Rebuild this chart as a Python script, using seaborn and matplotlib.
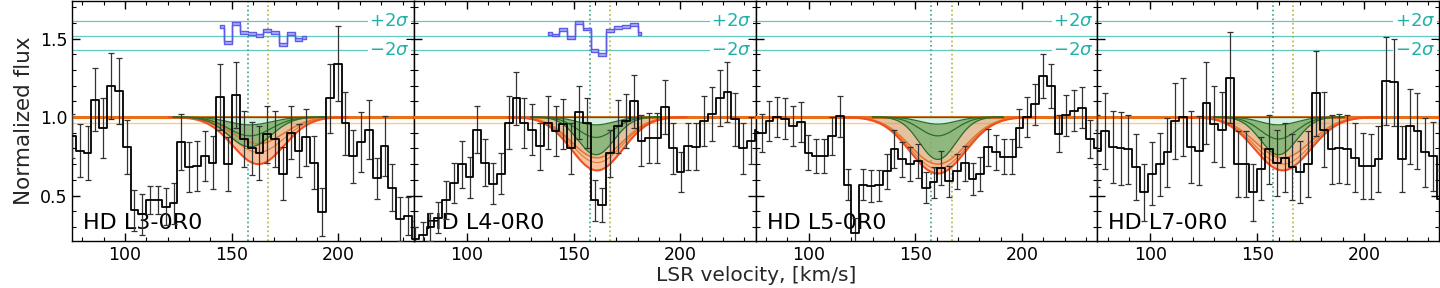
import numpy as np
import matplotlib
matplotlib.use("Agg")
import matplotlib.pyplot as plt
from matplotlib.ticker import MultipleLocator
import matplotlib.transforms as mtransforms
import seaborn as sns

# ---------------- data ----------------
panel_names = ["HD L3-0R0", "HD L4-0R0", "HD L5-0R0", "HD L7-0R0"]
bin_start = [73.34, 73.85, 72.5, 73.2]   # left edge of first velocity bin (km/s)
bin_width = 3.66

flux_L3 = [0.88, 0.785, 0.77, 1.11, 0.93, 1.20, 1.165, 0.81, 0.405, 0.38, 0.47, 0.47, 0.43, 0.45,
           0.84, 0.68, 0.69, 0.75, 0.71, 1.13, 0.70, 1.14, 0.86, 0.80, 0.77, 0.89, 0.86, 0.64,
           0.90, 0.785, 0.87, 0.71, 0.395, 1.12, 1.34, 0.96, 0.75, 0.84, 0.92, 0.61, 0.815, 0.55,
           0.35, 0.37, 0.22]
err_L3 = [0.14, 0.17, 0.17, 0.20, 0.19, 0.21, 0.21, 0.17, 0.13, 0.13, 0.09, 0.09, 0.12, 0.13,
          0.18, 0.16, 0.16, 0.16, 0.17, 0.21, 0.17, 0.21, 0.18, 0.17, 0.17, 0.18, 0.18, 0.17,
          0.17, 0.17, 0.18, 0.17, 0.15, 0.22, 0.24, 0.20, 0.17, 0.19, 0.19, 0.13, 0.19, 0.15,
          0.14, 0.12, 0.12]

flux_L4 = [0.22, 0.25, 0.30, 0.36, 0.47, 0.58, 0.70, 0.615, 0.92, 0.71, 0.575, 0.64, 0.965, 1.12,
           0.96, 0.92, 0.815, 0.965, 0.91, 0.955, 0.80, 1.03, 0.96, 0.47, 0.44, 0.77, 0.94, 0.975,
           1.10, 0.85, 0.865, 0.865, 1.065, 0.80, 0.65, 0.815, 0.81, 0.975, 1.02, 1.12, 1.16,
           0.985, 0.80, 0.85, 0.92]
err_L4 = [0.08, 0.08, 0.09, 0.10, 0.12, 0.13, 0.15, 0.13, 0.15, 0.15, 0.13, 0.13, 0.17, 0.17,
          0.16, 0.16, 0.15, 0.17, 0.16, 0.16, 0.16, 0.17, 0.16, 0.13, 0.11, 0.15, 0.17, 0.17,
          0.17, 0.16, 0.16, 0.16, 0.17, 0.16, 0.13, 0.15, 0.15, 0.16, 0.17, 0.18, 0.19,
          0.17, 0.16, 0.15, 0.16]

flux_L5 = [0.907, 0.90, 0.975, 1.0, 0.99, 0.943, 0.968, 0.774, 0.753, 0.753, 0.88, 1.006, 0.57,
           0.26, 0.57, 0.56, 0.565, 0.654, 0.795, 0.73, 0.70, 0.72, 0.55, 0.584, 0.675, 0.59,
           0.654, 0.705, 0.605, 0.637, 0.806, 0.775, 0.747, 0.747, 0.928, 1.0, 1.08, 1.26, 1.196,
           0.895, 1.01, 1.04, 1.06, 0.86, 0.80]
err_L5 = [0.12, 0.12, 0.13, 0.13, 0.13, 0.13, 0.13, 0.11, 0.11, 0.11, 0.12, 0.13, 0.10,
          0.10, 0.10, 0.10, 0.10, 0.11, 0.12, 0.11, 0.11, 0.11, 0.10, 0.10, 0.11, 0.10,
          0.11, 0.11, 0.10, 0.11, 0.12, 0.11, 0.11, 0.11, 0.12, 0.13, 0.13, 0.14, 0.14,
          0.12, 0.13, 0.13, 0.13, 0.12, 0.12]

flux_L7 = [0.785, 0.91, 0.81, 0.80, 0.795, 0.68, 0.52, 0.64, 0.70, 0.775, 0.975, 1.0, 0.81, 0.785,
           1.09, 0.955, 0.92, 1.25, 0.70, 0.70, 0.52, 0.67, 0.795, 0.71, 0.74, 0.68, 0.65, 0.70,
           1.15, 0.92, 0.795, 0.80, 0.795, 0.74, 0.69, 0.685, 0.73, 1.23, 1.22, 0.73, 0.94, 0.91,
           0.775, 0.75, 0.48]
err_L7 = [0.23, 0.24, 0.23, 0.23, 0.22, 0.21, 0.18, 0.20, 0.20, 0.22, 0.24, 0.25, 0.23, 0.22,
          0.26, 0.24, 0.24, 0.29, 0.21, 0.21, 0.18, 0.20, 0.22, 0.21, 0.22, 0.21, 0.20, 0.21,
          0.27, 0.24, 0.22, 0.22, 0.22, 0.22, 0.21, 0.21, 0.21, 0.28, 0.28, 0.21, 0.24, 0.24,
          0.22, 0.22, 0.18]

fluxes = [flux_L3, flux_L4, flux_L5, flux_L7]
errors = [err_L3, err_L4, err_L5, err_L7]

# model profiles: centre (km/s), width (km/s) and depths of the band curves
green_center = [158.5, 160.5, 160.5, 160.0]
green_sigma = [10.0, 8.5, 8.5, 8.5]
green_depths = [[0.05, 0.12, 0.19], [0.05, 0.13, 0.24], [0.045, 0.12, 0.27], [0.05, 0.14, 0.24]]
orange_center = [162.5, 161.0, 160.5, 162.0]
orange_sigma = [12.0, 12.0, 13.0, 13.0]
orange_depths = [[0.17, 0.225, 0.30], [0.26, 0.29, 0.34], [0.30, 0.33, 0.36], [0.26, 0.30, 0.34]]

comp_velocities = [157.5, 167.0]

# residuals (in sigma units) shown above the spectra
res_first_bin = {0: 19, 1: 17}
res_values = {0: [1.2, -0.88, 1.64, 0.40, 0.23, 0.0, 0.63, 0.44, -1.16, 0.32, -0.57, -0.27],
              1: [0.32, 0.08, 0.76, -0.27, 1.77, 0.88, -2.04, -2.57, 0.63, 1.07, 1.20, 1.52, 0.32]}
res_level = 1.519
res_sigma = 0.0475

# ---------------- style ----------------
sns.set_theme(style="ticks")
plt.rcParams.update({
    "font.family": ["DejaVu Sans"],
    "axes.edgecolor": "black",
    "axes.linewidth": 1.0,
    "xtick.color": "black",
    "ytick.color": "black",
    "xtick.major.size": 6, "ytick.major.size": 6,
    "xtick.minor.size": 3, "ytick.minor.size": 3,
    "xtick.major.width": 1.0, "ytick.major.width": 1.0,
    "xtick.minor.width": 0.8, "ytick.minor.width": 0.8,
})

fig, axes = plt.subplots(1, 4, figsize=(14.4, 2.88), dpi=100, sharey=True)
fig.subplots_adjust(left=0.05, right=0.9995, bottom=0.163, top=0.997, wspace=0)

vgrid = np.linspace(60, 250, 800)
teal = "#20b2aa"

for i, ax in enumerate(axes):
    flux = np.array(fluxes[i])
    err = np.array(errors[i])
    vc = bin_start[i] + bin_width * (np.arange(len(flux)) + 0.5)

    # sigma reference lines
    for lvl in (res_level - 2 * res_sigma, res_level, res_level + 2 * res_sigma):
        ax.axhline(lvl, color=teal, lw=0.9, alpha=0.7, zorder=1)
    trans = mtransforms.blended_transform_factory(ax.transAxes, ax.transData)
    for lvl, lab in ((res_level + 2 * res_sigma, r"$+2\sigma$"), (res_level - 2 * res_sigma, r"$-2\sigma$")):
        ax.text(0.988, lvl, lab, transform=trans, ha="right", va="center", fontsize=13,
                color=teal, zorder=2,
                bbox=dict(facecolor="white", edgecolor="none", pad=1.0))

    # component velocities
    ax.axvline(comp_velocities[0], color="#3a9f8f", ls=":", lw=1.2, zorder=1)
    ax.axvline(comp_velocities[1], color="#b5b040", ls=":", lw=1.2, zorder=1)

    # model bands
    og = [1 - d * np.exp(-0.5 * ((vgrid - orange_center[i]) / orange_sigma[i]) ** 2)
          for d in orange_depths[i]]
    gg = [1 - d * np.exp(-0.5 * ((vgrid - green_center[i]) / green_sigma[i]) ** 2)
          for d in green_depths[i]]
    ax.axhline(0.965, color="#ffc98a", lw=1.0, zorder=1)
    ax.fill_between(vgrid, og[0], 1.0, color="#d49a5c", alpha=0.6, lw=0, zorder=2)
    ax.fill_between(vgrid, og[2], og[0], color="#f8bf9c", alpha=0.95, lw=0, zorder=2)
    ax.axhline(1.0, color="#e8701a", lw=2.2, zorder=3)
    gmask = np.abs(vgrid - green_center[i]) < 3.6 * green_sigma[i]
    ax.fill_between(vgrid[gmask], gg[0][gmask], 1.0, color="#d6f0e4", lw=0, zorder=3)
    ax.fill_between(vgrid[gmask], gg[2][gmask], gg[0][gmask], color="#74b574", alpha=0.75,
                    lw=0, zorder=3)
    omask = np.abs(vgrid - orange_center[i]) < 3.5 * orange_sigma[i]
    for k, c in enumerate(["#e07a30", "#e0783a", "#f24e1e"]):
        sns.lineplot(x=vgrid[omask], y=og[k][omask], ax=ax, color=c, lw=[1.2, 0.8, 1.5][k],
                     zorder=4, estimator=None, sort=False)
    for k in range(3):
        sns.lineplot(x=vgrid[gmask], y=gg[k][gmask], ax=ax, color="#2a6e2a", lw=0.9,
                     zorder=4, estimator=None, sort=False)
    sns.lineplot(x=vgrid[gmask], y=np.ones(gmask.sum()), ax=ax, color="#2a6e2a", lw=0.9,
                 zorder=4, estimator=None, sort=False)

    # data
    ax.errorbar(vc, flux, yerr=err, fmt="none", ecolor="#333333", elinewidth=0.9,
                capsize=2.5, capthick=0.9, zorder=5)
    sns.lineplot(x=vc, y=flux, ax=ax, color="black", lw=1.3, drawstyle="steps-mid",
                 zorder=6, estimator=None, sort=False)

    # residuals
    if i in res_values:
        r = np.array(res_values[i])
        idx = res_first_bin[i] + np.arange(len(r))
        rv = bin_start[i] + bin_width * (idx + 0.5)
        ry = res_level + res_sigma * r
        ax.fill_between(rv, ry - 0.009, ry + 0.009, step="mid", facecolor="#b3b3ff",
                        edgecolor="#5c5ce8", lw=1.0, zorder=6)

    ax.text(0.032, 0.035, panel_names[i], transform=ax.transAxes, ha="left", va="bottom",
            fontsize=16, color="black", zorder=3)

    ax.set_xlim(75.2, 235.3)
    ax.set_ylim(0.21, 1.74)
    ax.xaxis.set_major_locator(MultipleLocator(50))
    ax.xaxis.set_minor_locator(MultipleLocator(10))
    ax.yaxis.set_major_locator(MultipleLocator(0.5))
    ax.yaxis.set_minor_locator(MultipleLocator(0.1))
    ax.tick_params(which="both", direction="in", top=True, right=True, labelsize=12.5)
    ax.set_xlabel("")
    ax.set_ylabel("")
    for s in ax.spines.values():
        s.set_visible(True)
        s.set_color("black")

axes[0].set_ylabel("Normalized flux", fontsize=15.5)
fig.text(0.525, 0.01, "LSR velocity, [km/s]", ha="center", va="bottom", fontsize=14.5)

fig.savefig("out.png", dpi=100)
